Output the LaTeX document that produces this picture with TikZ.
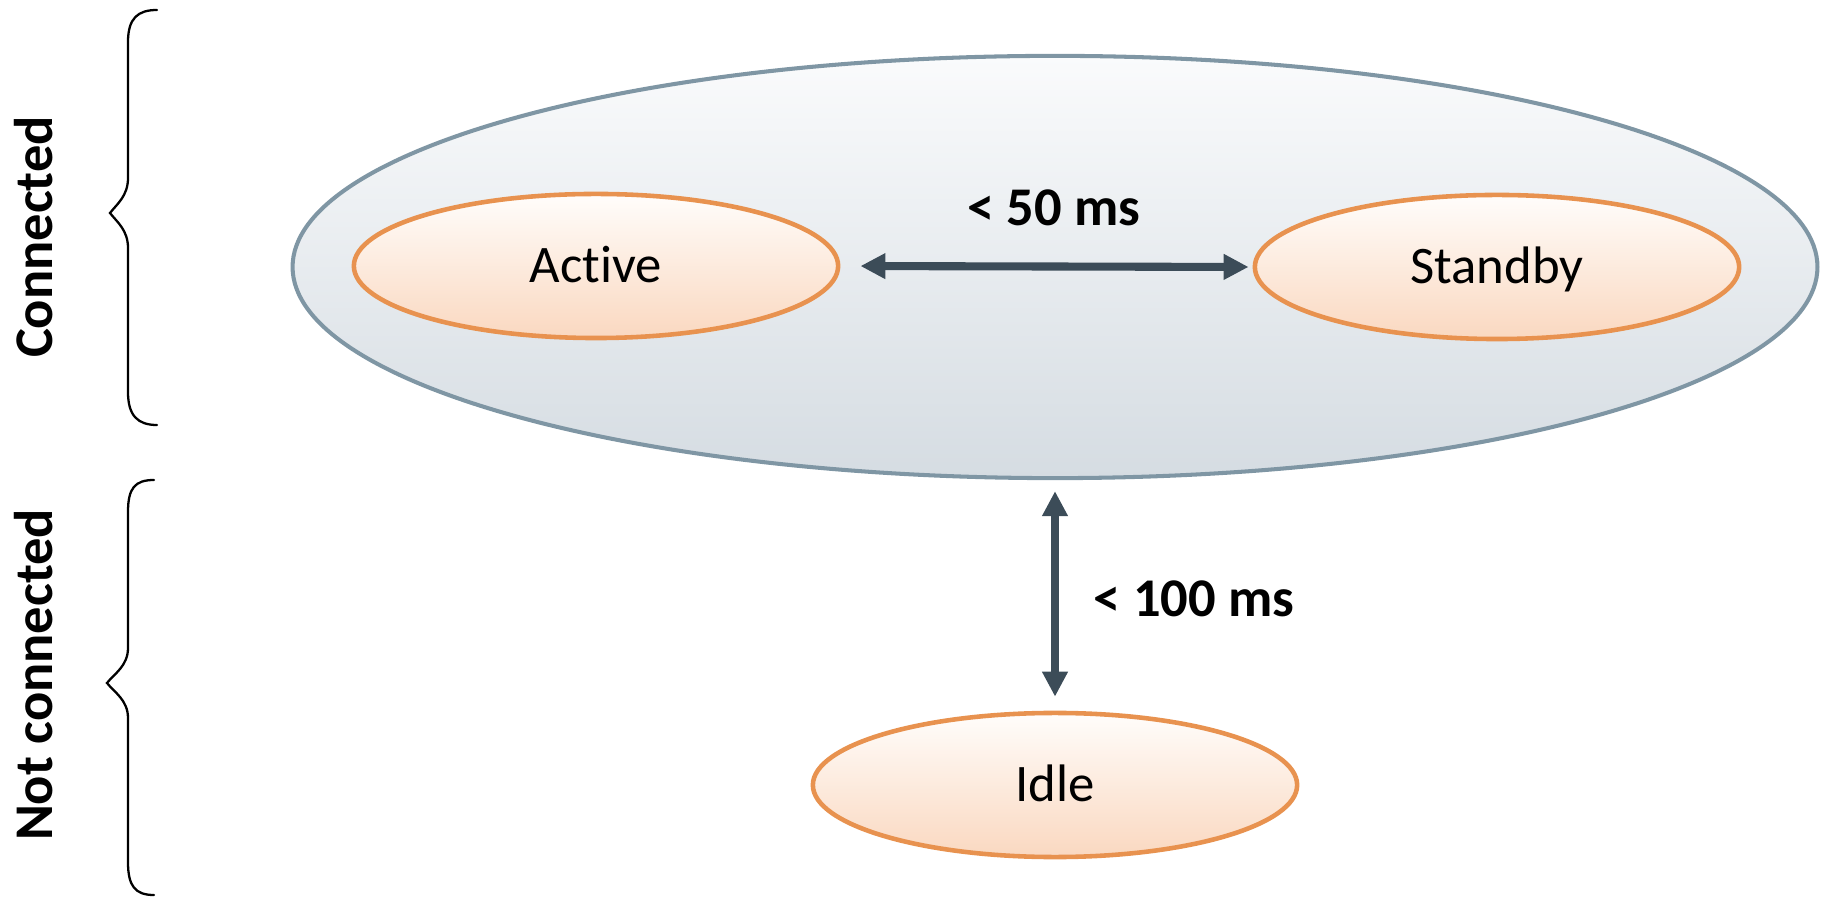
\documentclass[tikz,border=0pt]{standalone}
\usepackage{fontspec}
\setmainfont{Carlito}[Ligatures=NoCommon]
\usetikzlibrary{shapes.geometric,arrows.meta}

\definecolor{stateline}{HTML}{E8924F}
\definecolor{statetop}{HTML}{FFFDFB}
\definecolor{statebot}{HTML}{FAD8C0}
\definecolor{connline}{HTML}{7F96A4}
\definecolor{conntop}{HTML}{FAFBFC}
\definecolor{connbot}{HTML}{D5DCE2}
\definecolor{linkcol}{HTML}{3C4C58}

\begin{document}
\begin{tikzpicture}[x=0.01cm, y=-0.01cm,
  state/.style={ellipse, draw=stateline, line width=1.3pt,
    top color=statetop, bottom color=statebot,
    minimum width=4.84cm, minimum height=1.44cm, inner sep=0pt,
    font=\fontsize{15}{17}\selectfont, text height=9.6pt, text depth=0pt},
  connected/.style={ellipse, draw=connline, line width=1.15pt,
    top color=conntop, bottom color=connbot,
    minimum width=15.24cm, minimum height=4.22cm, inner sep=0pt},
  link/.style={draw=linkcol, line width=2.3pt,
    {Triangle[length=7.1pt,width=6.9pt]}-{Triangle[length=7.1pt,width=6.9pt]}},
  lbl/.style={font=\fontsize{15.5}{18}\bfseries\selectfont, inner sep=0pt,
    text height=10pt, text depth=0pt},
  side/.style={lbl, rotate=90},
  brc/.style={draw=black, line width=0.65pt, line cap=round}
]
\useasboundingbox (0,0) rectangle (1822,898);

% connected region and its states
\node[connected] (conn) at (1055,267) {};
\node[state] (active) at (596,266) {Active};
\node[state] (standby) at (1497,267) {Standby};
\node[state] (idle) at (1055,785) {Idle};

% transitions
\draw[link, shorten <=0.2cm, shorten >=0.04cm] (active.east) -- (standby.west);
\draw[link, shorten <=0.11cm, shorten >=0.14cm] (conn.south) -- (idle.north);
\node[lbl] (t50) at (1054,208) {< 50 ms};
\node[lbl, anchor=west] (t100) at (1093,599) {< 100 ms};

% side captions
\node[side] (lconn) at (35,237) {Connected};
\node[side] (lnot) at (35,675) {Not connected};

% braces
\draw[brc] (157,10) .. controls (138,10) and (128,18) .. (128,42)
  -- (128,178) .. controls (128,196) and (117,204) .. (110,213)
  .. controls (117,222) and (128,230) .. (128,248)
  -- (128,392) .. controls (128,416) and (138,425) .. (157,425);
\draw[brc] (154,480) .. controls (135,480) and (128,488) .. (128,512)
  -- (128,648) .. controls (128,666) and (114,674) .. (107,683)
  .. controls (114,692) and (128,700) .. (128,718)
  -- (128,862) .. controls (128,886) and (135,895) .. (154,895);
\end{tikzpicture}
\end{document}
